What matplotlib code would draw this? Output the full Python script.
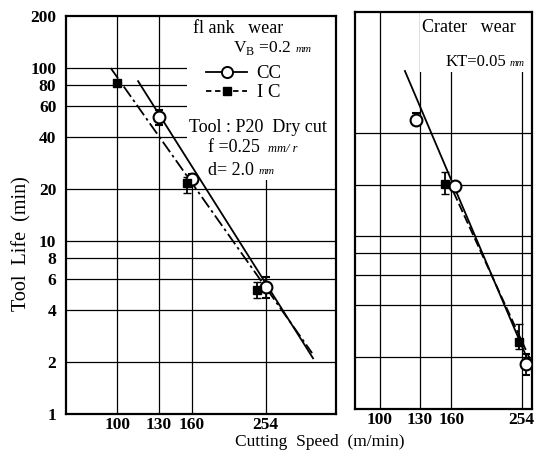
import matplotlib
matplotlib.use("Agg")
import matplotlib.pyplot as plt
from matplotlib.lines import Line2D
from matplotlib.patches import Rectangle
from matplotlib.ticker import NullLocator

plt.rcParams['font.family'] = ['Liberation Serif', 'DejaVu Serif']
plt.rcParams['mathtext.fontset'] = 'custom'
plt.rcParams['mathtext.rm'] = 'Liberation Serif'

# ---------------- data ----------------
x_ticks = [100, 130, 160, 254]
y_ticks = [1, 2, 4, 6, 8, 10, 20, 40, 60, 80, 100, 200]
y_grid_left = [2, 4, 6, 8, 10, 20, 40, 60, 80, 100]
y_grid_right = [2, 4, 6, 8, 10, 20, 40]

# flank wear (left panel)
flank_cc_speed = [130, 160, 254]
flank_cc_life = [52, 22.8, 5.4]
flank_cc_err_low = [5, 1.5, 0.7]
flank_cc_err_high = [5, 1.5, 0.8]
flank_ic_speed = [100, 155, 240]
flank_ic_life = [82, 21.6, 5.2]
flank_ic_err_low = [0, 2.6, 0.5]
flank_ic_err_high = [0, 2.0, 0.6]
flank_cc_fit_speed = [114, 342]
flank_cc_fit_life = [84, 2.1]
flank_ic_fit_speed = [96, 340]
flank_ic_fit_life = [100, 2.25]

# crater wear (right panel)
crater_cc_speed = [127, 164, 262]
crater_cc_life = [47.5, 19.7, 1.82]
crater_cc_err_low = [3.5, 0, 0.25]
crater_cc_err_high = [4.5, 0, 0.25]
crater_ic_speed = [154, 250]
crater_ic_life = [20.2, 2.44]
crater_ic_err_low = [2.5, 0.2]
crater_ic_err_high = [3.3, 0.65]
crater_cc_fit_speed = [118, 275]
crater_cc_fit_life = [91, 1.6]
crater_ic_fit_speed = [157, 275]
crater_ic_fit_life = [21, 1.75]

fig = plt.figure(figsize=(5.37, 4.54), dpi=100)
axL = fig.add_axes([66/537, 40/454, 270/537, 398/454])
axR = fig.add_axes([355/537, 45/454, 177/537, 397/454])

TICK_FS = 12.5

for ax, xlim in ((axL, (72.5, 395)), (axR, (85, 272))):
    ax.set_xscale('log')
    ax.set_yscale('log')
    ax.set_xlim(*xlim)
    ax.set_ylim(1, 200)
    ax.set_xticks(x_ticks, labels=[str(v) for v in x_ticks],
                  fontsize=TICK_FS, fontweight='bold')
    ax.xaxis.set_minor_locator(NullLocator())
    ax.yaxis.set_minor_locator(NullLocator())
    ax.tick_params(axis='x', length=0, pad=2)
    ax.tick_params(axis='y', length=0, pad=7)
    for sp in ax.spines.values():
        sp.set_linewidth(1.6)
    for v in x_ticks:
        ax.axvline(v, color='black', lw=0.9, zorder=1)

axL.set_yticks(y_ticks, labels=[str(v) for v in y_ticks],
               fontsize=TICK_FS, fontweight='bold')
axR.set_yticks(y_ticks, labels=['' for v in y_ticks])
axL.yaxis.set_minor_locator(NullLocator())
axR.yaxis.set_minor_locator(NullLocator())

for v in y_grid_left:
    axL.axhline(v, color='black', lw=0.9, zorder=1)
for v in y_grid_right:
    axR.axhline(v, color='black', lw=0.9, zorder=1)

# white boxes behind annotations
axL.add_patch(Rectangle((0.448, 0.588), 0.552, 0.412, transform=axL.transAxes,
                        facecolor='white', edgecolor='none', zorder=2))
axR.add_patch(Rectangle((0.367, 0.85), 0.633, 0.15, transform=axR.transAxes,
                        facecolor='white', edgecolor='none', zorder=2))

# ---- left panel marks ----
axL.plot(flank_cc_fit_speed, flank_cc_fit_life, color='black', lw=1.3, zorder=3)
axL.plot(flank_ic_fit_speed, flank_ic_fit_life, color='black', lw=1.3,
         ls=(0, (7, 2, 1.5, 2)), zorder=3)
axL.errorbar(flank_cc_speed, flank_cc_life, yerr=[flank_cc_err_low, flank_cc_err_high],
             fmt='o', ms=8.5, mfc='white', mec='black', mew=1.5, ecolor='black',
             elinewidth=1.3, capsize=3, zorder=5)
axL.errorbar(flank_ic_speed, flank_ic_life, yerr=[flank_ic_err_low, flank_ic_err_high],
             fmt='s', ms=5.5, mfc='black', mec='black', ecolor='black',
             elinewidth=1.3, capsize=3, zorder=5)

# ---- right panel marks ----
axR.plot(crater_cc_fit_speed, crater_cc_fit_life, color='black', lw=1.3, zorder=3)
axR.plot(crater_ic_fit_speed, crater_ic_fit_life, color='black', lw=1.3,
         ls=(0, (5, 2)), zorder=3)
axR.errorbar(crater_cc_speed, crater_cc_life, yerr=[crater_cc_err_low, crater_cc_err_high],
             fmt='o', ms=8.5, mfc='white', mec='black', mew=1.5, ecolor='black',
             elinewidth=1.3, capsize=3, zorder=5)
axR.errorbar(crater_ic_speed, crater_ic_life, yerr=[crater_ic_err_low, crater_ic_err_high],
             fmt='s', ms=5.5, mfc='black', mec='black', ecolor='black',
             elinewidth=1.3, capsize=3, zorder=5)

# ---- annotations ----
def fx(ax, px):
    bb = ax.get_position()
    return (px / 537 - bb.x0) / bb.width

def fy(ax, py):
    bb = ax.get_position()
    return ((454 - py) / 454 - bb.y0) / bb.height

def note(ax, px, py, s, fs, **kw):
    ax.text(fx(ax, px), fy(ax, py), s, transform=ax.transAxes, fontsize=fs,
            va='center', ha='left', zorder=6, **kw)

note(axL, 193, 28, 'fl ank   wear', 13)
note(axL, 233, 48, r'V$_\mathrm{B}$ =0.2', 12.5)
note(axL, 296, 49, 'mm', 8, style='italic')

# legend built from proxies
leg_handles = [Line2D([], [], color='black', lw=1.3, marker='o', ms=8, mfc='white', mew=1.4),
               Line2D([], [], color='black', lw=1.3, ls=(0, (3, 2)), marker='s', ms=5.5, mfc='black')]
leg = axL.legend(leg_handles, ['CC', 'I C'], loc='upper left',
                 bbox_to_anchor=(fx(axL, 206), fy(axL, 65)), frameon=False,
                 fontsize=13.5, handlelength=2.2, handletextpad=0.5, labelspacing=0.1,
                 borderpad=0, borderaxespad=0)
leg.set_zorder(6)

note(axL, 189, 127, 'Tool : P20  Dry cut', 13)
note(axL, 208, 148, 'f =0.25', 13)
note(axL, 268, 149, 'mm/ r', 9, style='italic')
note(axL, 208, 170, 'd= 2.0', 13)
note(axL, 259, 171, 'mm', 8, style='italic')

note(axR, 422, 27, 'Crater   wear', 13)
note(axR, 446, 62, 'KT=0.05', 12)
note(axR, 510, 63, 'mm', 7.5, style='italic')

# ---- axis titles ----
fig.text(22 / 537, (454 - 244) / 454, 'Tool  Life  (min)', rotation=90,
         ha='center', va='center', fontsize=14.5)
fig.text(320 / 537, (454 - 442) / 454, 'Cutting  Speed  (m/min)',
         ha='center', va='center', fontsize=12.5)

fig.savefig('out.png', dpi=100)
